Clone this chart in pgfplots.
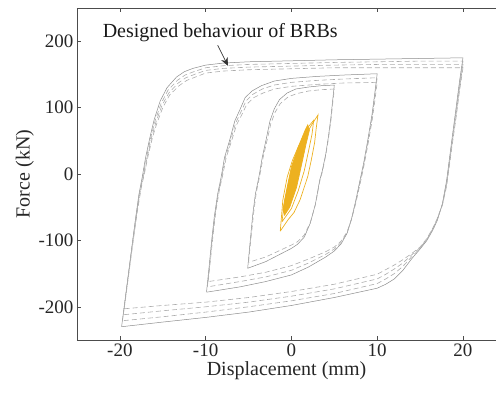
\documentclass[border=0pt]{standalone}
\usepackage{fontspec}
\setmainfont{Liberation Serif}
\usepackage{pgfplots}
\pgfplotsset{compat=1.18}
\usetikzlibrary{arrows.meta}
\definecolor{dgray}{RGB}{172,172,172}
\definecolor{sgray}{RGB}{140,140,140}
\definecolor{morange}{RGB}{237,177,32}
\begin{document}
\begin{tikzpicture}
\useasboundingbox (-77pt,-54pt) rectangle (419pt,340pt);
\begin{axis}[
  at={(0pt,0pt)}, anchor=south west,
  scale only axis, width=419pt, height=332pt,
  xmin=-25, xmax=23.85, ymin=-250, ymax=250,
  axis x line=box, axis y line=left,
  axis line style={-, black!70, line width=0.6pt},
  tick style={black!70, line width=0.6pt},
  major tick length=4pt, tick align=inside,
  xtick={-20,-10,0,10,20}, ytick={-200,-100,0,100,200},
  /pgf/number format/assume math mode=true,
  tick label style={font=\fontsize{19}{22}\selectfont, black!85},
  label style={font=\fontsize{20}{24}\selectfont, black!85},
  xlabel={Displacement (mm)}, ylabel={Force (kN)},
  xlabel style={yshift=2pt},
  ylabel style={yshift=-2pt},
  clip=false,
]
% ---- big loop +-20mm, several cycles ----
\addplot[sgray, line width=0.5pt] coordinates {
(-19.8,-230) (-19.4,-190) (-19,-150) (-18.6,-110) (-18.2,-70) (-17.8,-32) (-17.4,-5) (-17,25) (-16.5,55) (-16,82) (-15.3,110) (-14.5,130) (-13.4,146) (-12.5,154) (-11.5,159) (-10,164) (-8,167) (-5,169) (0,170.5) (5,172) (10,173) (15,174) (20,175)
(19.6,140) (19.2,100) (18.7,51) (18.1,-9) (17.6,-45) (17,-70) (16.5,-84) (15.8,-100) (15,-113) (14,-128) (13,-145) (12,-158) (11,-166) (10,-172) (5,-186) (0,-198) (-5,-208) (-10,-216) (-15,-223) (-19.8,-230)};
\addplot[dgray, line width=0.6pt, dash pattern=on 5pt off 3pt] coordinates {
(-19.7,-221) (-19.3,-180) (-18.9,-140) (-18.5,-100) (-18.1,-62) (-17.7,-28) (-17.3,-3) (-16.9,25) (-16.4,55) (-15.9,80) (-15.2,106) (-14.4,126) (-13.3,141) (-12.4,149) (-11.4,154) (-10,160) (-8,163) (-5,165) (0,166.5) (5,168) (10,169) (15,170) (20,170)
(19.6,135) (19.2,95) (18.7,47) (18.1,-12) (17.6,-45) (17,-69) (16.5,-83) (15.8,-99) (15,-112) (14,-125) (13,-139) (12,-150) (11,-158) (10,-165) (5,-180) (0,-191) (-5,-200) (-10,-208) (-15,-215) (-19.7,-221)};
\addplot[dgray, line width=0.6pt, dash pattern=on 5pt off 3pt] coordinates {
(-19.6,-212) (-19.2,-172) (-18.8,-132) (-18.4,-93) (-18,-56) (-17.6,-24) (-17.2,0) (-16.8,26) (-16.3,55) (-15.8,78) (-15.1,103) (-14.3,122) (-13.2,137) (-12.3,145) (-11.3,150) (-10,156) (-8,159) (-5,161) (0,162.5) (5,164) (10,165) (15,165) (20,165)
(19.6,130) (19.2,90) (18.7,43) (18.1,-15) (17.6,-46) (17,-68) (16.5,-82) (15.8,-98) (15,-111) (14,-122) (13,-134) (12,-143) (11,-151) (10,-158) (5,-173) (0,-184) (-5,-193) (-10,-200) (-15,-206) (-19.6,-212)};
\addplot[dgray, line width=0.6pt, dash pattern=on 5pt off 3pt] coordinates {
(-19.5,-203) (-19.1,-164) (-18.7,-125) (-18.3,-87) (-17.9,-51) (-17.5,-20) (-17.1,3) (-16.7,28) (-16.2,55) (-15.7,76) (-15,100) (-14.2,119) (-13.1,133) (-12.2,141) (-11.2,146) (-10,152) (-8,155) (-5,157) (0,158.5) (5,160) (10,160) (15,160) (20,160)
(19.6,125) (19.2,85) (18.7,40) (18.1,-18) (17.6,-47) (17,-67) (16.5,-81) (15.8,-97) (15,-110) (14,-120) (13,-129) (12,-137) (11,-144) (10,-151) (5,-166) (0,-177) (-5,-186) (-10,-193) (-15,-198) (-19.5,-203)};
% ---- middle loop +-10mm ----
\addplot[sgray, line width=0.5pt] coordinates {
(-9.9,-178) (-9.6,-140) (-9.3,-100) (-9,-65) (-8.6,-30) (-8.2,-5) (-7.8,25) (-7.2,51) (-6.6,80) (-6,97) (-5.4,115) (-4.6,125) (-3.5,133) (-2,140) (0,144) (3,147) (6,149) (10,151)
(9.7,120) (9.4,90) (8.9,51) (8.4,15) (8,-9) (7.5,-40) (7,-68) (6.5,-89) (5.8,-105) (5,-116) (4,-125) (2,-140) (0,-152) (-3,-162) (-6,-170) (-9.9,-178)};
\addplot[dgray, line width=0.6pt, dash pattern=on 5pt off 3pt] coordinates {
(-9.8,-170) (-9.5,-132) (-9.2,-94) (-8.9,-60) (-8.5,-27) (-8.1,-3) (-7.7,25) (-7.1,50) (-6.5,77) (-5.9,93) (-5.3,110) (-4.5,120) (-3.4,128) (-2,134) (0,138) (3,141) (6,143) (10,145)
(9.7,115) (9.4,85) (8.9,47) (8.4,12) (8,-12) (7.5,-42) (7,-68) (6.5,-88) (5.8,-103) (5,-113) (4,-121) (2,-134) (0,-145) (-3,-155) (-6,-162) (-9.8,-170)};
\addplot[dgray, line width=0.6pt, dash pattern=on 5pt off 3pt] coordinates {
(-9.7,-162) (-9.4,-124) (-9.1,-88) (-8.8,-55) (-8.4,-24) (-8,-1) (-7.6,25) (-7,49) (-6.4,74) (-5.8,89) (-5.2,105) (-4.4,115) (-3.3,122) (-2,128) (0,132) (3,135) (6,137) (10,138)
(9.7,108) (9.4,80) (8.9,43) (8.4,9) (8,-15) (7.5,-44) (7,-68) (6.5,-87) (5.8,-101) (5,-110) (4,-117) (2,-128) (0,-138) (-3,-148) (-6,-155) (-9.7,-162)};
% ---- small loop +-5mm ----
\addplot[sgray, line width=0.5pt] coordinates {
(-5.1,-142) (-4.8,-100) (-4.5,-60) (-4.2,-30) (-3.8,-5) (-3.4,25) (-2.9,55) (-2.5,80) (-2,98) (-1.4,112) (-0.5,122) (0.5,128) (2,131) (3.5,133) (5,134)
(4.8,110) (4.6,85) (4.3,55) (4,30) (3.6,5) (3.3,-9) (2.8,-45) (2.2,-74) (1.5,-95) (0.7,-106) (0,-112) (-1.5,-122) (-3,-132) (-5.1,-142)};
\addplot[dgray, line width=0.6pt, dash pattern=on 5pt off 3pt] coordinates {
(-5,-133) (-4.7,-95) (-4.4,-58) (-4.1,-28) (-3.7,-3) (-3.3,25) (-2.8,53) (-2.4,76) (-1.9,93) (-1.3,106) (-0.4,116) (0.6,121) (2,125) (3.5,127) (5,128)
(4.8,105) (4.6,80) (4.3,52) (4,28) (3.6,3) (3.3,-11) (2.8,-46) (2.2,-73) (1.5,-92) (0.7,-102) (0,-107) (-1.5,-116) (-3,-125) (-5,-133)};
% ---- measured response (orange) ----
\addplot[morange, fill=morange, line width=0.7pt] coordinates {
(-1.0,-54) (-0.5,-20) (0,11) (0.8,41) (1.6,66) (1.9,74) (2.1,66) (1.7,45) (1.3,21) (0.6,-20) (-0.2,-50) (-0.8,-62) (-1.0,-54)} -- cycle;
\addplot[morange, line width=0.7pt] coordinates {
(-1.3,-86) (-1.0,-39) (-0.5,-5) (0.1,20) (0.8,41) (1.4,55) (1.9,64) (2.5,77) (3.1,89) (2.9,70) (2.7,47) (2.3,20) (1.9,-4) (1.0,-39) (0.3,-58) (-0.4,-69) (-1.3,-86)};
\addplot[morange, line width=0.7pt] coordinates {
(-1.1,-72) (-0.8,-40) (-0.2,-5) (0.6,30) (1.3,55) (1.9,70) (2.6,81) (2.4,60) (2.0,35) (1.5,5) (0.8,-25) (0.0,-52) (-1.1,-72)};
% ---- annotation ----
\node[font=\fontsize{20}{24}\selectfont, black!90] at (axis cs:-8.3,213) {Designed behaviour of BRBs};
\draw[-{Stealth[length=8pt,width=7pt]}, black!80, line width=0.6pt] (axis cs:-8.6,194) -- (axis cs:-7.4,163);
\end{axis}
\end{tikzpicture}
\end{document}
